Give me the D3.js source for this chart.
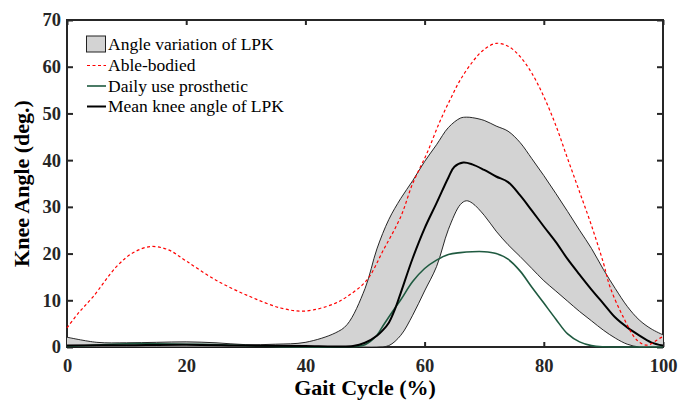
<!DOCTYPE html>
<html>
<head>
<meta charset="utf-8">
<script src="https://cdn.jsdelivr.net/npm/d3@7"></script>
<style>
  body { margin: 0; background: #fff; }
  svg { display: block; }
  .tick text { font-family: "Liberation Serif", "Times New Roman", serif; font-weight: bold; font-size: 18.5px; fill: #262626; }
  .axis-title { font-family: "Liberation Serif", "Times New Roman", serif; font-weight: bold; font-size: 22px; fill: #000; }
  .legend text { font-family: "Liberation Serif", "Times New Roman", serif; font-size: 17.5px; fill: #000; }
</style>
</head>
<body>
<div id="chart"></div>
<script>
/* CONSTANTS AND GLOBALS */
const width = 692,
  height = 401,
  margin = { top: 20, bottom: 54, left: 67, right: 29 };

/* DATA */
// grey band: min / max knee angle of the LPK
const bandX = [0, 5, 10, 15, 20, 25, 30, 35, 40, 45, 47, 50, 52, 54, 56, 58, 60, 62, 64, 66, 67, 68, 70, 72, 74, 76, 78, 80, 82, 84, 86, 88, 90, 92, 94, 96, 98, 100];
const bandUpper = [2.1, 1.0, 0.9, 1.0, 1.1, 0.9, 0.5, 0.6, 1.0, 3.0, 4.8, 12.5, 21.0, 27.3, 31.8, 35.6, 39.7, 43.3, 47.0, 49.0, 49.2, 49.1, 48.5, 47.3, 46.2, 43.8, 40.3, 36.7, 32.9, 29.0, 25.0, 21.1, 16.6, 12.5, 8.7, 5.8, 3.9, 2.6];
const bandLower = [0, 0, 0, 0, 0, 0, 0, 0, 0, 0, 0, 0, 0, 0.3, 2.5, 6.8, 12.0, 17.2, 25.2, 30.5, 31.3, 30.8, 28.2, 24.8, 21.9, 19.4, 16.8, 14.2, 12.0, 9.8, 7.6, 5.6, 3.6, 1.9, 0.6, 0, 0, 0];

// able-bodied reference
const ableX = [0, 2, 4.4, 8.3, 11, 14, 17, 20, 25, 30.7, 36, 40, 44.7, 47, 50.3, 53.1, 56, 58, 60.4, 62.6, 64.3, 66, 68.2, 70, 72, 74, 76, 78, 80, 82, 84, 86, 88, 90, 91.1, 93.3, 95.6, 97.3, 99.5, 100];
const ableY = [4.1, 7.4, 10.8, 17.2, 20.1, 21.5, 20.8, 18.4, 14.3, 10.8, 8.3, 7.7, 9.2, 10.8, 14.3, 20.8, 27.9, 35.0, 41.5, 48.4, 53.0, 57.2, 61.3, 63.7, 65.0, 64.4, 62.2, 58.6, 53.6, 47.5, 40.3, 33.2, 26.0, 18.0, 12.9, 6.5, 1.5, 0.4, 1.9, 2.2];

// daily use prosthetic
const dailyX = [0, 5, 10, 15, 20, 25, 30, 35, 40, 45, 50, 52, 53, 55, 56, 58, 60, 62, 64, 66, 68, 70, 72, 74, 76, 78, 80, 82, 84, 86, 88, 90, 95, 100];
const dailyY = [0.1, 0.4, 0.7, 0.7, 0.6, 0.5, 0.3, 0.1, 0, 0, 0.5, 2.5, 4.5, 8.3, 10.1, 14.0, 16.8, 18.6, 19.8, 20.2, 20.4, 20.4, 20.0, 18.8, 16.3, 12.8, 9.4, 6.0, 2.8, 1.1, 0.3, 0.05, 0, 0];

// mean knee angle of LPK
const meanX = [0, 10, 20, 30, 40, 45, 48, 50, 52, 53, 54, 55, 56, 58, 60, 62, 64, 65, 66.5, 68, 70, 72, 74, 76, 78, 80, 82, 84, 86, 88, 90, 92, 94, 96, 98, 100];
const meanY = [0.3, 0.4, 0.5, 0.3, 0.2, 0.1, 0.2, 0.9, 2.4, 3.6, 5.2, 8.0, 11.6, 19.0, 25.4, 30.8, 36.3, 38.6, 39.5, 39.1, 37.9, 36.5, 35.3, 32.5, 29.2, 25.8, 22.5, 18.8, 15.5, 12.3, 9.3, 6.3, 4.2, 2.5, 1.0, 0.3];

const xTicks = [0, 20, 40, 60, 80, 100];
const yTicks = [0, 10, 20, 30, 40, 50, 60, 70];

const legendLabels = ["Angle variation of LPK", "Able-bodied", "Daily use prosthetic", "Mean knee angle of LPK"];

const zip = (xs, ys) => xs.map((x, i) => ({ x: x, y: ys[i] }));

/* SCALES */
const xScale = d3.scaleLinear().domain([0, 100]).range([margin.left, width - margin.right]);
const yScale = d3.scaleLinear().domain([0, 70]).range([height - margin.bottom, margin.top]);

const svg = d3.select("#chart")
  .append("svg")
  .attr("width", width)
  .attr("height", height);

// frame
svg.append("rect")
  .attr("x", xScale(0))
  .attr("y", yScale(70))
  .attr("width", xScale(100) - xScale(0))
  .attr("height", yScale(0) - yScale(70))
  .attr("fill", "none")
  .attr("stroke", "#262626")
  .attr("stroke-width", 2);

// axes, ticks pointing inward
const xAxis = d3.axisBottom(xScale).tickValues(xTicks).tickSizeInner(-5).tickSizeOuter(0).tickPadding(12);
const yAxis = d3.axisLeft(yScale).tickValues(yTicks).tickSizeInner(-6).tickSizeOuter(0).tickPadding(6);

svg.append("g")
  .attr("transform", `translate(0,${yScale(0)})`)
  .call(xAxis)
  .call(g => g.select(".domain").remove());

svg.append("g")
  .attr("transform", `translate(${xScale(0)},0)`)
  .call(yAxis)
  .call(g => g.select(".domain").remove());

svg.append("g")
  .attr("transform", `translate(0,${yScale(70)})`)
  .call(d3.axisTop(xScale).tickValues(xTicks).tickSizeInner(-5).tickSizeOuter(0).tickFormat(""))
  .call(g => g.select(".domain").remove());

svg.append("g")
  .attr("transform", `translate(${xScale(100)},0)`)
  .call(d3.axisRight(yScale).tickValues(yTicks).tickSizeInner(-6).tickSizeOuter(0).tickFormat(""))
  .call(g => g.select(".domain").remove());

svg.selectAll(".tick line").attr("stroke", "#262626").attr("stroke-width", 2);

// axis titles
svg.append("text")
  .attr("class", "axis-title")
  .attr("x", (xScale(0) + xScale(100)) / 2)
  .attr("y", 395)
  .attr("text-anchor", "middle")
  .text("Gait Cycle (%)");

svg.append("text")
  .attr("class", "axis-title")
  .attr("transform", `translate(29,${(yScale(0) + yScale(70)) / 2}) rotate(-90)`)
  .attr("text-anchor", "middle")
  .text("Knee Angle (deg.)");

/* MARKS */
const bandData = bandX.map((x, i) => ({ x: x, lo: bandLower[i], hi: bandUpper[i] }));
const smooth = d3.curveCatmullRom.alpha(0.5);

const area = d3.area()
  .x(d => xScale(d.x))
  .y0(d => yScale(d.lo))
  .y1(d => yScale(d.hi))
  .curve(smooth);

const line = d3.line()
  .x(d => xScale(d.x))
  .y(d => yScale(d.y))
  .curve(smooth);

svg.append("path")
  .datum(bandData)
  .attr("d", area)
  .attr("fill", "#d3d3d3");

svg.append("path")
  .datum(zip(bandX, bandUpper))
  .attr("d", line)
  .attr("fill", "none")
  .attr("stroke", "#111")
  .attr("stroke-width", 0.9);

svg.append("path")
  .datum(zip(bandX, bandLower))
  .attr("d", line)
  .attr("fill", "none")
  .attr("stroke", "#111")
  .attr("stroke-width", 0.9);

svg.append("path")
  .datum(zip(dailyX, dailyY))
  .attr("d", line)
  .attr("fill", "none")
  .attr("stroke", "#1f5a40")
  .attr("stroke-width", 1.6);

svg.append("path")
  .datum(zip(meanX, meanY))
  .attr("d", line)
  .attr("fill", "none")
  .attr("stroke", "#000")
  .attr("stroke-width", 2);

svg.append("path")
  .datum(zip(ableX, ableY))
  .attr("d", line)
  .attr("fill", "none")
  .attr("stroke", "#ff0000")
  .attr("stroke-width", 1.2)
  .attr("stroke-dasharray", "3,2.5");

/* LEGEND */
const legend = svg.append("g").attr("class", "legend");
const rowY = [44, 65.5, 86, 106.5];

legend.append("rect")
  .attr("x", 86.5).attr("y", rowY[0] - 8)
  .attr("width", 19).attr("height", 16)
  .attr("fill", "#d3d3d3")
  .attr("stroke", "#222")
  .attr("stroke-width", 1);

const legendStyles = [
  null,
  { stroke: "#ff0000", width: 1.2, dash: "3,2.5" },
  { stroke: "#1f5a40", width: 1.6, dash: null },
  { stroke: "#000", width: 2, dash: null }
];

legendStyles.forEach((s, i) => {
  if (!s) return;
  legend.append("line")
    .attr("x1", 87).attr("x2", 106)
    .attr("y1", rowY[i]).attr("y2", rowY[i])
    .attr("stroke", s.stroke)
    .attr("stroke-width", s.width)
    .attr("stroke-dasharray", s.dash);
});

legend.selectAll("text")
  .data(legendLabels)
  .join("text")
  .attr("x", 108)
  .attr("y", (d, i) => rowY[i])
  .attr("dy", "0.33em")
  .text(d => d);
</script>
</body>
</html>
